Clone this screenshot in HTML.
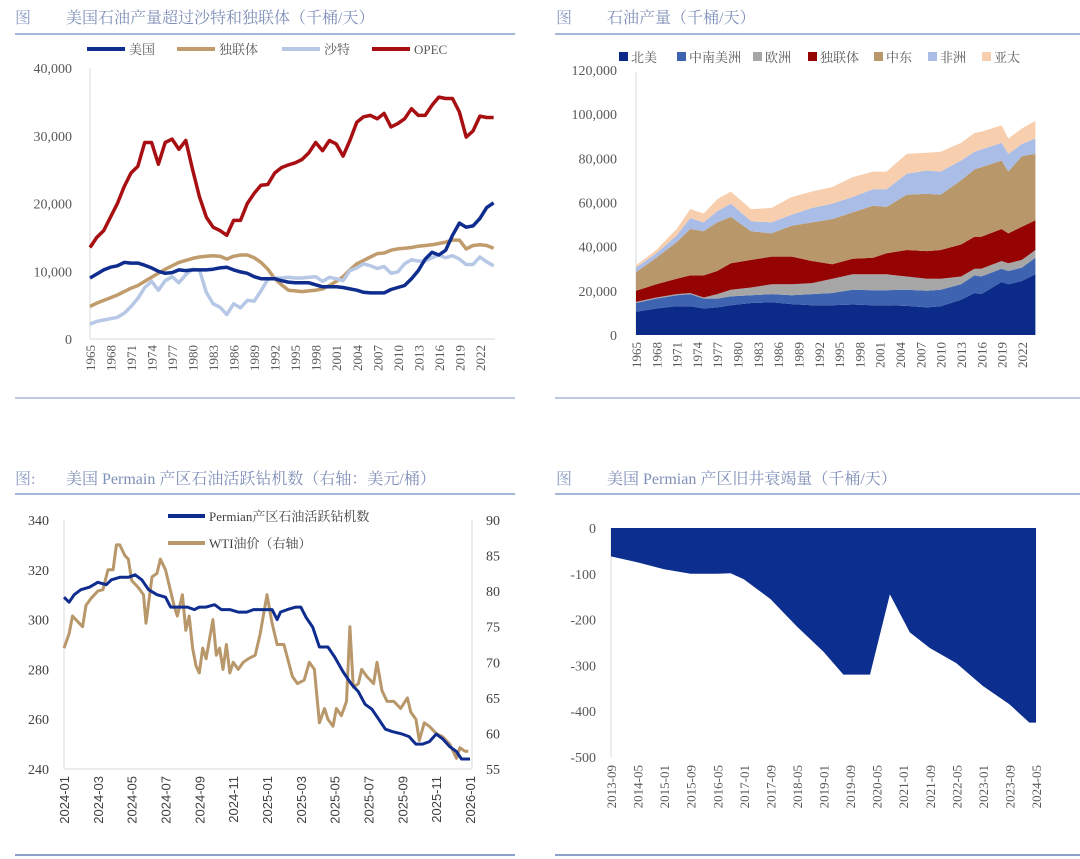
<!DOCTYPE html>
<html><head><meta charset="utf-8">
<style>
html,body{margin:0;padding:0;background:#fff;}
svg{display:block;}
.t{font-family:"Liberation Serif","Noto Serif CJK SC",serif;}
.s{font-family:"Liberation Sans","Noto Sans CJK SC",sans-serif;}
</style></head>
<body>
<svg id="root" width="1080" height="859" viewBox="0 0 1080 859" xmlns="http://www.w3.org/2000/svg">
<g>
<text class="t" x="15" y="23" font-size="16" fill="#8fa0c8">图</text>
<text class="t" x="66" y="23" font-size="16" fill="#7f8fb8">美国石油产量超过沙特和独联体（千桶/天）</text>
<line x1="15" y1="34" x2="515" y2="34" stroke="#a7b5da" stroke-width="2"/>
</g>
<g>
<text class="t" x="556" y="23" font-size="16" fill="#8fa0c8">图</text>
<text class="t" x="607" y="23" font-size="16" fill="#7f8fb8">石油产量（千桶/天）</text>
<line x1="555" y1="34" x2="1080" y2="34" stroke="#a7b5da" stroke-width="2"/>
</g>
<g>
<text class="t" x="15" y="484" font-size="16" fill="#8fa0c8">图:</text>
<text class="t" x="66" y="484" font-size="16" fill="#7f8fb8">美国 Permain 产区石油活跃钻机数（右轴：美元/桶）</text>
<line x1="15" y1="494" x2="515" y2="494" stroke="#a7b5da" stroke-width="2"/>
</g>
<g>
<text class="t" x="556" y="484" font-size="16" fill="#8fa0c8">图</text>
<text class="t" x="607" y="484" font-size="16" fill="#7f8fb8">美国 Permian 产区旧井衰竭量（千桶/天）</text>
<line x1="555" y1="494" x2="1080" y2="494" stroke="#a7b5da" stroke-width="2"/>
</g>
<line x1="15" y1="398" x2="515" y2="398" stroke="#a7b5da" stroke-width="1.5"/>
<line x1="555" y1="398" x2="1080" y2="398" stroke="#a7b5da" stroke-width="1.5"/>
<line x1="15" y1="855" x2="515" y2="855" stroke="#8f9fcc" stroke-width="2"/>
<line x1="555" y1="855" x2="1080" y2="855" stroke="#8f9fcc" stroke-width="2"/>
<g id="p1"></g>
<g id="p2"></g>
<g id="p3"></g>
<g id="p4"></g>
</svg>
<script>
// ---------- Panel 1 data ----------
const p1StartYear = 1965;
const p1US = [9,9.6,10.2,10.6,10.8,11.3,11.2,11.2,10.9,10.5,10.0,9.7,9.8,10.2,10.1,10.2,10.2,10.2,10.3,10.5,10.6,10.2,9.9,9.7,9.2,8.9,8.9,8.9,8.6,8.4,8.3,8.3,8.3,8.0,7.7,7.7,7.7,7.6,7.4,7.2,6.9,6.8,6.8,6.8,7.3,7.6,7.9,8.9,10.1,11.8,12.8,12.4,13.1,15.3,17.1,16.5,16.7,17.8,19.4,20.1];
const p1CIS = [4.8,5.3,5.7,6.1,6.5,7.0,7.5,7.9,8.5,9.1,9.7,10.3,10.8,11.3,11.6,11.9,12.1,12.2,12.3,12.2,11.8,12.2,12.4,12.4,12.0,11.3,10.3,8.9,8.0,7.2,7.1,7.0,7.1,7.2,7.4,7.9,8.5,9.2,10.2,11.1,11.6,12.1,12.6,12.7,13.1,13.3,13.4,13.5,13.7,13.8,13.9,14.1,14.3,14.6,14.6,13.3,13.8,13.9,13.8,13.4];
const p1Saudi = [2.2,2.6,2.8,3.0,3.2,3.8,4.8,6.0,7.6,8.5,7.2,8.6,9.2,8.3,9.5,10.3,10.2,6.9,5.2,4.7,3.6,5.2,4.6,5.7,5.6,7.1,8.8,9.0,9.0,9.1,9.0,9.0,9.1,9.2,8.5,9.1,8.9,8.6,10.1,10.5,11.1,10.8,10.4,10.7,9.7,9.9,11.1,11.7,11.5,11.5,12.0,12.4,12.0,12.3,11.8,11.0,11.0,12.1,11.4,10.8];
const p1OPEC = [13.5,15,16,18,20,22.5,24.5,25.5,29,29,25.8,29,29.5,28,29.3,25,21,18,16.5,16,15.3,17.5,17.5,20,21.5,22.7,22.8,24.5,25.3,25.7,26,26.5,27.5,29,27.8,29.3,28.8,27,29.3,32,32.8,33,32.5,33.3,31.3,31.8,32.5,34,33,33,34.5,35.7,35.5,35.5,33.5,29.8,30.7,32.9,32.7,32.7];
const p1YTicks = [0,10000,20000,30000,40000];
const p1YLabels = ["0","10,000","20,000","30,000","40,000"];

// ---------- Panel 2 data ----------
const p2Years = [1965,1968,1971,1973,1975,1977,1979,1982,1985,1988,1991,1994,1997,2000,2002,2005,2008,2010,2013,2015,2016,2019,2020,2022,2024];
const p2NorthAmerica = [10.5,12,13,13,12,12.5,13.5,14.5,14.8,14,13.5,13.5,13.8,13.5,13.5,13.2,12.5,13,16,19,18.5,24,23,24.5,27.5];
const p2SouthAmerica = [4,4.5,5,5.5,4.5,4,4,3.5,3.7,4,5,5.5,6.7,6.8,6.8,7.3,7.5,7.5,7,8,8,6,6,6,7.5];
const p2Europe = [0.5,0.5,0.5,0.5,0.5,2,3,3.5,4.5,5,5,6.5,7,7.2,7.2,6,5.5,5,3.5,3,3.5,3.5,3.5,3.5,3.5];
const p2CIS = [5,6,7,8,10,10.5,12,12.5,12.5,12.5,10,6.5,7,7.5,9.5,12,12.5,13,14.5,14.5,14.5,14.5,13.5,15,13.5];
const p2MiddleEast = [8.5,12,16.5,21,20,22,21,13,10.5,14,17.5,20.5,21,23.5,21,25,26,25,29,30.5,31.5,31,28,32,30];
const p2Africa = [2,2,3,5,4,5,6,4.5,5,5,6.5,7,7,7.5,8,9.5,10.5,10.5,9,8,8,8,8,5.5,7];
const p2AsiaPacific = [1,1.5,3,4,4,5.5,5.5,5.5,6.5,8,7.5,7.5,9,8,8,9,8,9,8,8.5,8,8,7,7,8];
const p2SeriesNames = ["北美","中南美洲","欧洲","独联体","中东","非洲","亚太"];
const p2YTicks = [0,20000,40000,60000,80000,100000,120000];
const p2YLabels = ["0","20,000","40,000","60,000","80,000","100,000","120,000"];

// ---------- Panel 3 data (x = months since 2024-01) ----------
const p3RigMonths = [0,0.3,0.6,1,1.5,2,2.5,2.8,3.3,3.8,4.2,4.6,5,5.5,6,6.3,6.8,7.3,7.7,8,8.4,8.9,9.3,9.8,10.3,10.8,11.2,11.6,12,12.3,12.6,12.8,13.2,13.7,14.0,14.3,14.7,15.1,15.6,16.0,16.5,17.0,17.4,17.8,18.2,18.6,19.0,19.4,20.0,20.4,20.8,21.2,21.6,22.0,22.4,22.8,23.2,23.5,24];
const p3Rigs = [309,307,310,312,313,315,314,316,317,317,318,316,312,310,309,305,305,305,304,305,305,306,304,304,303,303,304,304,304,304,300,303,304,305,305,301,297,289,289,285,279,274,271,266,264,260,256,255,254,253,250,250,251,254,252,249,247,244,244];
const p3WtiMonths = [0,0.3,0.5,0.9,1.1,1.3,1.6,2,2.3,2.6,2.9,3.1,3.3,3.6,3.8,4.0,4.4,4.7,4.85,5.2,5.5,5.7,6.0,6.2,6.5,6.7,7.0,7.2,7.4,7.6,7.8,8.0,8.2,8.4,8.8,9.0,9.2,9.4,9.6,9.8,10.0,10.3,10.6,10.9,11.3,11.6,12.0,12.3,12.6,13.0,13.5,13.8,14.2,14.5,14.8,15.1,15.4,15.6,15.9,16.1,16.4,16.7,16.9,17.1,17.4,17.6,17.9,18.3,18.5,18.8,19.1,19.5,19.9,20.3,20.5,20.8,21.0,21.3,21.6,22.0,22.4,22.8,23.2,23.4,23.7,23.9];
const p3Wti = [72,74,76.5,75.5,75,78,79,80,80.2,83,83,86.5,86.5,85,84.5,81.5,80.5,79.5,75.5,82,82.5,84.5,83,81,78,76.5,79.5,74.5,76.5,72,69.5,68.5,72,70.5,76,71,72,69,72.5,68.5,70,69,70,70.5,71,74,79.5,75.5,72.5,72.5,68,67,67.5,70,69,61.5,63.5,62,61,63.5,62.5,64.5,75,66.5,67,69,68,67,70,66,64.5,64.5,63.5,65,63,62,59,61.5,61,60,59.5,58.5,56.5,58,57.5,57.5];
const p3LeftTicks = [240,260,280,300,320,340];
const p3RightTicks = [55,60,65,70,75,80,85,90];
const p3XLabels = ["2024-01","2024-03","2024-05","2024-07","2024-09","2024-11","2025-01","2025-03","2025-05","2025-07","2025-09","2025-11","2026-01"];

// ---------- Panel 4 data (x = months since 2013-09) ----------
const p4Months = [0,8,16,24,32,36,40,48,56,64,70,78,84,90,96,104,112,120,126,128];
const p4Depletion = [-62,-75,-90,-100,-100,-99,-112,-155,-215,-270,-320,-320,-145,-228,-262,-295,-345,-385,-425,-425];
const p4YTicks = [0,-100,-200,-300,-400,-500];
const p4XLabels = ["2013-09","2014-05","2015-01","2015-09","2016-05","2017-01","2017-09","2018-05","2019-01","2019-09","2020-05","2021-01","2021-09","2022-05","2023-01","2023-09","2024-05"];

const NS = "http://www.w3.org/2000/svg";
function mk(parent, tag, attrs, text){
  const e = document.createElementNS(NS, tag);
  for (const k in attrs) e.setAttribute(k, attrs[k]);
  if (text !== undefined) e.textContent = text;
  parent.appendChild(e);
  return e;
}
const TXT = "#595959";

// ===== Panel 1 =====
(function(){
  const g = document.getElementById('p1');
  const x = i => 90 + i * 6.84;
  const y = v => 339 - v / 40000 * 271;
  const ax = mk(g,'line',{x1:90,y1:68,x2:90,y2:339,stroke:'#d9d9d9','stroke-width':1});
   
  const bx = mk(g,'line',{x1:90,y1:339,x2:495,y2:339,stroke:'#d9d9d9','stroke-width':1});
   
  p1YTicks.forEach((v,i)=>{
    const t = mk(g,'text',{x:72,y:y(v)+5,'text-anchor':'end','font-size':14,fill:TXT,class:'t'},p1YLabels[i]);
     
  });
  for (let i=0;i<60;i+=3){
    const t = mk(g,'text',{transform:`translate(${x(i)+5},345) rotate(-90)`,'text-anchor':'end','font-size':13,fill:TXT,class:'t'},String(p1StartYear+i));
     
  }
  const series = [[p1CIS,'#c09c6c','cis-line'],[p1Saudi,'#b7c8e6','saudi-line'],[p1US,'#0f2d8e','us-line'],[p1OPEC,'#a80f12','opec-line']];
  series.forEach(s=>{
    const d = s[0].map((v,i)=>(i?'L':'M')+x(i).toFixed(1)+','+y(v*1000).toFixed(1)).join('');
    const p = mk(g,'path',{d:d,fill:'none',stroke:s[1],'stroke-width':3.5,'stroke-linejoin':'round'});
     
  });
  const leg = [[87,'#0f2d8e','美国','legend-us'],[177,'#c09c6c','独联体','legend-cis'],[282,'#b7c8e6','沙特','legend-saudi'],[372,'#a80f12','OPEC','legend-opec']];
  leg.forEach(l=>{
    const gg = mk(g,'g',{});
     
    mk(gg,'line',{x1:l[0],y1:49,x2:l[0]+38,y2:49,stroke:l[1],'stroke-width':4});
    mk(gg,'text',{x:l[0]+42,y:54,'font-size':13,fill:TXT,class:'t'},l[2]);
  });
})();

// ===== Panel 2 =====
(function(){
  const g = document.getElementById('p2');
  const x = yr => 636 + (yr-1965) * 6.77;
  const y = v => 335 - v / 120000 * 265;
  const ax = mk(g,'line',{x1:636,y1:72,x2:636,y2:335,stroke:'#d9d9d9','stroke-width':1});
   
  p2YTicks.forEach((v,i)=>{
    const t = mk(g,'text',{x:617,y:y(v)+5,'text-anchor':'end','font-size':14,fill:TXT,class:'t'},p2YLabels[i]);
     
  });
  for (let yr=1965; yr<=2024; yr+=3){
    const t = mk(g,'text',{transform:`translate(${x(yr)+5},342) rotate(-90)`,'text-anchor':'end','font-size':13,fill:TXT,class:'t'},String(yr));
     
  }
  const series = [p2NorthAmerica,p2SouthAmerica,p2Europe,p2CIS,p2MiddleEast,p2Africa,p2AsiaPacific];
  const colors = ['#0c2a87','#3d63b1','#a6a6a6','#950303','#b8976a','#a9bde6','#f8cfae'];
  const names = ['north-america-area','south-america-area','europe-area','cis-area','middle-east-area','africa-area','asia-pacific-area'];
  let base = p2Years.map(()=>0);
  series.forEach((s,k)=>{
    const top = base.map((b,i)=>b+s[i]);
    let d = top.map((v,i)=>(i?'L':'M')+x(p2Years[i]).toFixed(1)+','+y(v*1000).toFixed(1)).join('');
    for (let i=p2Years.length-1;i>=0;i--) d += 'L'+x(p2Years[i]).toFixed(1)+','+y(base[i]*1000).toFixed(1);
    const p = mk(g,'path',{d:d+'Z',fill:colors[k]});
     
    base = top;
  });
  const lx = [619,677,753,808,874,928,982];
  p2SeriesNames.forEach((n,k)=>{
    const gg = mk(g,'g',{});
     
    mk(gg,'rect',{x:lx[k],y:52,width:9,height:9,fill:colors[k]});
    mk(gg,'text',{x:lx[k]+12,y:62,'font-size':13,fill:TXT,class:'t'},n);
  });
})();

// ===== Panel 3 =====
(function(){
  const g = document.getElementById('p3');
  const x = m => 64 + m * (406/24);
  const yl = v => 769 - (v-240)/100 * 249;
  const yr = v => 769 - (v-55)/35 * 249;
  mk(g,'line',{x1:64,y1:520,x2:64,y2:769,stroke:'#d9d9d9'});
  mk(g,'line',{x1:64,y1:769,x2:472,y2:769,stroke:'#d9d9d9'});
  mk(g,'line',{x1:472,y1:520,x2:472,y2:769,stroke:'#d9d9d9'});
  p3LeftTicks.forEach(v=>{
    const t = mk(g,'text',{x:49,y:yl(v)+5,'text-anchor':'end','font-size':14,fill:'#404040',class:'t'},String(v));
     
  });
  p3RightTicks.forEach(v=>{
    const t = mk(g,'text',{x:486,y:yr(v)+5,'font-size':14,fill:'#404040',class:'t'},String(v));
     
  });
  p3XLabels.forEach((l,i)=>{
    const t = mk(g,'text',{transform:`translate(${x(i*2)+5},776) rotate(-90)`,'text-anchor':'end','font-size':13,fill:'#404040',class:'s'},l);
     
  });
  const dw = p3WtiMonths.map((m,i)=>(i?'L':'M')+x(m).toFixed(1)+','+yr(p3Wti[i]).toFixed(1)).join('');
  const pw = mk(g,'path',{d:dw,fill:'none',stroke:'#b8976a','stroke-width':3,'stroke-linejoin':'round'});
   
  const dr = p3RigMonths.map((m,i)=>(i?'L':'M')+x(m).toFixed(1)+','+yl(p3Rigs[i]).toFixed(1)).join('');
  const pr = mk(g,'path',{d:dr,fill:'none',stroke:'#0f2d8e','stroke-width':3,'stroke-linejoin':'round'});
   
  const l1 = mk(g,'g',{});  
  mk(l1,'line',{x1:168,y1:516,x2:205,y2:516,stroke:'#0f2d8e','stroke-width':4});
  mk(l1,'text',{x:209,y:521,'font-size':13,fill:'#404040',class:'t'},'Permian产区石油活跃钻机数');
  const l2 = mk(g,'g',{});  
  mk(l2,'line',{x1:168,y1:543,x2:205,y2:543,stroke:'#b8976a','stroke-width':4});
  mk(l2,'text',{x:209,y:548,'font-size':13,fill:'#404040',class:'t'},'WTI油价（右轴）');
})();

// ===== Panel 4 =====
(function(){
  const g = document.getElementById('p4');
  const x = m => 611 + m * (425/128);
  const y = v => 528 + (-v)/500 * 229;
  mk(g,'line',{x1:611,y1:528,x2:611,y2:757,stroke:'#d9d9d9'});
  p4YTicks.forEach(v=>{
    const t = mk(g,'text',{x:596,y:y(v)+5,'text-anchor':'end','font-size':14,fill:TXT,class:'t'},String(v));
     
  });
  p4XLabels.forEach((l,i)=>{
    const t = mk(g,'text',{transform:`translate(${x(i*8)+5},765) rotate(-90)`,'text-anchor':'end','font-size':13,fill:TXT,class:'t'},l);
     
  });
  let d = 'M'+x(p4Months[0]).toFixed(1)+','+y(0);
  p4Months.forEach((m,i)=>{ d += 'L'+x(m).toFixed(1)+','+y(p4Depletion[i]).toFixed(1); });
  d += 'L'+x(p4Months[p4Months.length-1]).toFixed(1)+','+y(0)+'Z';
  const p = mk(g,'path',{d:d,fill:'#0c2f8f'});
   
})();
</script>
</body></html>
